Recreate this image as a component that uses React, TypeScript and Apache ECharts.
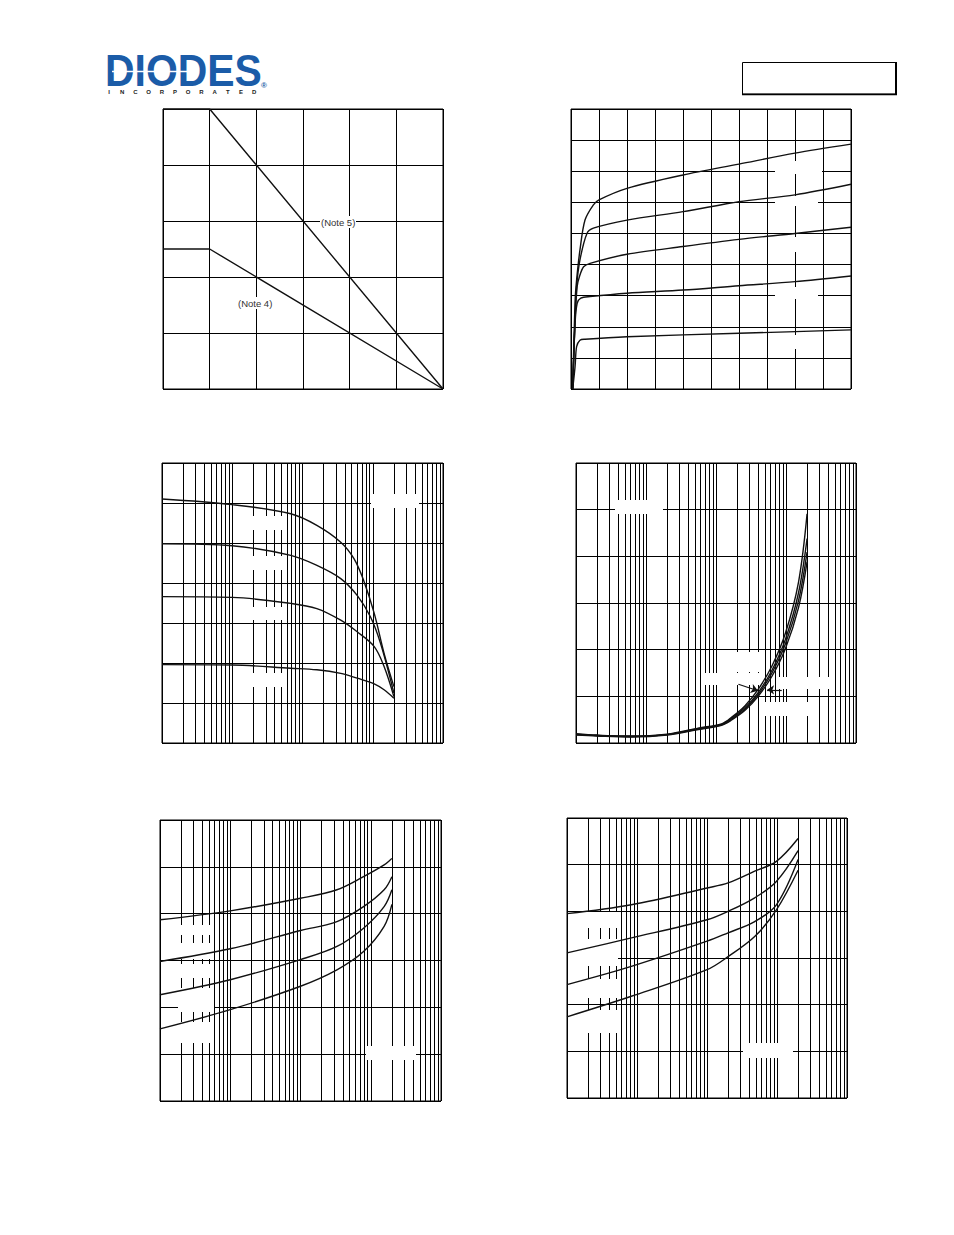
import React, { useEffect, useRef } from "react";
import * as echarts from "echarts";

// ---------- Chart 1: derating (x: ambient temp, y: power) ----------
const c1Temp = [0, 25, 150];
const c1Note5 = [1.0, 1.0, 0];
const c1Note4 = [0.5, 0.5, 0];

// ---------- Chart 2: output characteristics (V_CE, I_C) ----------
const c2Ib5: number[][] = [[0.012, 0], [0.029, 28], [0.04, 35], [0.064, 44.7], [0.1, 54.3], [0.16, 59.2], [0.2, 60.8], [0.4, 64.5], [0.8, 68.8], [1.2, 72.3], [1.6, 75.8], [2.0, 78.7]];
const c2Ib4: number[][] = [[0.012, 0], [0.029, 23], [0.04, 33], [0.064, 41.5], [0.114, 50], [0.16, 51.7], [0.4, 54.3], [0.8, 57.0], [1.2, 60.2], [1.6, 62.4], [2.0, 65.8]];
const c2Ib3: number[][] = [[0.012, 0], [0.029, 22], [0.044, 33], [0.06, 36.1], [0.09, 39.3], [0.136, 40.4], [0.4, 43.3], [0.8, 45.8], [1.2, 48.1], [1.6, 50.0], [2.0, 52.0]];
const c2Ib2: number[][] = [[0.012, 0], [0.029, 21], [0.044, 27.5], [0.07, 29.2], [0.136, 29.7], [0.4, 30.8], [0.8, 31.8], [1.2, 33.2], [1.6, 34.5], [2.0, 36.3]];
const c2Ib1: number[][] = [[0.012, 0], [0.029, 7.2], [0.04, 13.6], [0.064, 15.7], [0.1, 16.0], [0.4, 16.8], [1.2, 17.9], [2.0, 19.0]];

// ---------- Chart 3: DC current gain vs I_C ----------
const c3A: number[][] = [[0.1, 610], [1, 596], [6.8, 573], [16, 544], [35, 502], [54, 461], [74, 407], [105, 324], [145, 224], [200, 141]];
const c3B: number[][] = [[0.1, 498], [1, 493], [6.8, 469], [16, 444], [35, 411], [60, 369], [93, 315], [129, 249], [200, 125]];
const c3C: number[][] = [[0.1, 366], [1, 364], [6.8, 349], [16, 336], [35, 307], [60, 278], [105, 241], [145, 191], [200, 116]];
const c3D: number[][] = [[0.1, 196], [1, 195], [6.8, 187], [16, 183], [35, 174], [60, 162], [105, 148], [145, 133], [200, 112]];

// ---------- Chart 4: V_CE(sat) vs I_C ----------
const c4A: number[][] = [[0.1, 0.020], [0.2, 0.017], [0.6, 0.015], [2, 0.019], [5.6, 0.032], [12, 0.041], [17, 0.056], [26, 0.080], [40, 0.115], [63, 0.165], [98, 0.235], [151, 0.345], [200, 0.491]];
const c4B: number[][] = [[0.1, 0.019], [0.2, 0.016], [0.6, 0.014], [2, 0.018], [5.6, 0.031], [12, 0.040], [17, 0.054], [26, 0.076], [40, 0.108], [63, 0.156], [98, 0.222], [151, 0.322], [200, 0.438]];
const c4C: number[][] = [[0.1, 0.018], [0.2, 0.016], [0.6, 0.014], [2, 0.018], [5.6, 0.030], [12, 0.039], [17, 0.052], [26, 0.073], [40, 0.104], [63, 0.150], [98, 0.212], [151, 0.305], [200, 0.409]];
const c4D: number[][] = [[0.1, 0.017], [0.2, 0.015], [0.6, 0.013], [2, 0.017], [5.6, 0.029], [12, 0.038], [17, 0.050], [26, 0.070], [40, 0.100], [63, 0.143], [98, 0.202], [151, 0.290], [200, 0.388]];
const c4Arrows: number[][][] = [[[20.9, 0.126], [39.8, 0.112]], [[87, 0.114], [53.7, 0.114]]];

// ---------- Chart 5: V_BE(sat) vs I_C ----------
const c5A: number[][] = [[0.1, 0.774], [1, 0.812], [10, 0.866], [33, 0.902], [79, 0.958], [155, 1.008], [200, 1.036]];
const c5B: number[][] = [[0.1, 0.596], [1, 0.65], [10, 0.728], [33, 0.766], [79, 0.83], [155, 0.902], [200, 0.958]];
const c5C: number[][] = [[0.1, 0.454], [1, 0.518], [10, 0.604], [33, 0.66], [79, 0.738], [155, 0.83], [200, 0.902]];
const c5D: number[][] = [[0.1, 0.308], [1, 0.39], [10, 0.49], [33, 0.56], [79, 0.638], [155, 0.746], [200, 0.84]];

// ---------- Chart 6: V_BE(on) vs I_C ----------
const c6A: number[][] = [[0.1, 0.79], [0.83, 0.828], [10, 0.9], [20, 0.922], [48, 0.972], [98, 1.014], [200, 1.112]];
const c6B: number[][] = [[0.1, 0.622], [0.83, 0.686], [10, 0.764], [20, 0.8], [48, 0.858], [98, 0.928], [200, 1.06]];
const c6C: number[][] = [[0.1, 0.486], [0.83, 0.564], [10, 0.672], [20, 0.708], [48, 0.756], [98, 0.828], [200, 1.022]];
const c6D: number[][] = [[0.1, 0.348], [0.83, 0.436], [10, 0.55], [20, 0.606], [48, 0.692], [98, 0.806], [200, 0.976]];

// minor log gridlines (2..9 of each decade)
const logMinor = [0.2, 0.3, 0.4, 0.5, 0.6, 0.7, 0.8, 0.9, 2, 3, 4, 5, 6, 7, 8, 9, 20, 30, 40, 50, 60, 70, 80, 90, 200, 300, 400, 500, 600, 700, 800, 900];

const logoWord = "DIODES";
const logoSub = "INCORPORATED";

// white label masks [x, y, w, h] (label backgrounds of the original)
const masks: number[][] = [
  [775, 161, 47, 13], [775, 196, 43, 10], [785, 237, 20, 15], [775, 287, 43, 12], [785, 335, 20, 14],
  [371, 494, 48, 14], [250, 516, 34, 14], [250, 556, 34, 14], [250, 607, 34, 13], [250, 673, 34, 14],
  [615, 500, 48, 14], [737, 652, 28, 20], [704, 673, 61, 12], [778, 677, 52, 12], [765, 702, 53, 14],
  [178, 925, 36, 10], [178, 943, 36, 16], [178, 964, 36, 14], [178, 988, 36, 24], [178, 1022, 36, 21], [366, 1046, 50, 14],
  [585, 912, 33, 16], [568, 939, 50, 27], [585, 979, 33, 19], [585, 1010, 33, 23], [743, 1043, 50, 15],
];

const axisBase = {
  axisLine: { show: false },
  axisTick: { show: false },
  axisLabel: { show: false },
  splitLine: { show: true, lineStyle: { color: "#000", width: 1 } },
};

function valAxis(gi: number, min: number, max: number, interval: number) {
  return { type: "value", gridIndex: gi, min, max, interval, ...axisBase };
}
function logAxis(gi: number) {
  return { type: "log", logBase: 10, gridIndex: gi, min: 0.1, max: 1000, ...axisBase };
}
function curve(gi: number, data: number[][], smooth: number | boolean = 0.35) {
  return {
    type: "line", xAxisIndex: gi, yAxisIndex: gi, data, symbol: "none", showSymbol: false,
    smooth, silent: true, z: 5,
    lineStyle: { color: "#111", width: 1.4 },
  };
}
function minorGrid(gi: number) {
  return {
    type: "line", xAxisIndex: gi, yAxisIndex: gi, data: [[1, 0]], symbol: "none", silent: true, z: 1,
    lineStyle: { opacity: 0 },
    markLine: {
      silent: true, z: 1, symbol: ["none", "none"], label: { show: false },
      lineStyle: { color: "#000", width: 1, type: "solid" },
      emphasis: { disabled: true },
      data: logMinor.map((v) => ({ xAxis: v })),
    },
  };
}

function buildOption() {
  const grids = [
    { left: 163, top: 109, width: 280, height: 280 },
    { left: 571, top: 109, width: 280, height: 280 },
    { left: 162, top: 463, width: 281, height: 280 },
    { left: 576, top: 463, width: 280, height: 280 },
    { left: 160, top: 820, width: 281, height: 281 },
    { left: 567, top: 818, width: 280, height: 280 },
  ].map((g) => ({ ...g, show: true, borderColor: "#000", borderWidth: 1, backgroundColor: "transparent" }));

  const xAxis = [valAxis(0, 0, 150, 25), valAxis(1, 0, 2, 0.2), logAxis(2), logAxis(3), logAxis(4), logAxis(5)];
  const yAxis = [valAxis(0, 0, 1, 0.2), valAxis(1, 0, 90, 10), valAxis(2, 0, 700, 100), valAxis(3, 0, 0.6, 0.1), valAxis(4, 0, 1.2, 0.2), valAxis(5, 0, 1.2, 0.2)];

  const series: any[] = [
    curve(0, c1Temp.map((t, i) => [t, c1Note5[i]]), false),
    curve(0, c1Temp.map((t, i) => [t, c1Note4[i]]), false),
    curve(1, c2Ib5, 0.3), curve(1, c2Ib4, 0.3), curve(1, c2Ib3, 0.3), curve(1, c2Ib2, 0.3), curve(1, c2Ib1, 0.3),
    minorGrid(2), curve(2, c3A), curve(2, c3B), curve(2, c3C), curve(2, c3D),
    minorGrid(3), curve(3, c4A), curve(3, c4B), curve(3, c4C), curve(3, c4D),
    minorGrid(4), curve(4, c5A), curve(4, c5B), curve(4, c5C), curve(4, c5D),
    minorGrid(5), curve(5, c6A), curve(5, c6B), curve(5, c6C), curve(5, c6D),
    {
      type: "line", xAxisIndex: 3, yAxisIndex: 3, data: [[1, 0]], symbol: "none", silent: true, z: 6,
      lineStyle: { opacity: 0 },
      markLine: {
        silent: true, z: 6, symbol: ["none", "arrow"], symbolSize: 7, label: { show: false },
        lineStyle: { color: "#111", width: 1.2, type: "solid" },
        emphasis: { disabled: true },
        data: c4Arrows.map((a) => [{ coord: a[0] }, { coord: a[1] }]),
      },
    },
  ];

  const elements: any[] = [];
  masks.forEach((m) => {
    elements.push({ type: "rect", z: 3, silent: true, shape: { x: m[0], y: m[1], width: m[2], height: m[3] }, style: { fill: "#fff" } });
  });
  // chart 1 notes
  const note = (txt: string, x: number, y: number) => {
    elements.push({ type: "rect", z: 3, silent: true, shape: { x: x - 1, y: y - 6, width: 36, height: 12 }, style: { fill: "#fff" } });
    elements.push({
      type: "text", z: 4, silent: true, x, y,
      style: { text: txt, fill: "#333", font: '9.5px "Liberation Sans", Arial, sans-serif', align: "left", verticalAlign: "middle", textAlign: "left", textVerticalAlign: "middle" },
    });
  };
  note("(Note 5)", 321, 222);
  note("(Note 4)", 238, 303);

  // logo
  elements.push({
    type: "text", z: 4, silent: true, x: 105, y: 71, scaleX: 0.93,
    style: { text: logoWord, fill: "#1B5CA8", font: 'bold 44px "Liberation Sans", Arial, sans-serif', align: "left", verticalAlign: "middle", textAlign: "left", textVerticalAlign: "middle" },
  });
  elements.push({ type: "line", z: 5, silent: true, shape: { x1: 112, y1: 71.5, x2: 196, y2: 71.5 }, style: { stroke: "#fff", lineWidth: 1.5 } });
  logoSub.split("").forEach((ch, i) => {
    elements.push({
      type: "text", z: 4, silent: true, x: 109 + i * 13.2, y: 92,
      style: { text: ch, fill: "#222", font: 'bold 6px "Liberation Sans", Arial, sans-serif', align: "center", verticalAlign: "middle", textAlign: "center", textVerticalAlign: "middle" },
    });
  });
  elements.push({
    type: "text", z: 4, silent: true, x: 264, y: 85,
    style: { text: "®", fill: "#1B5CA8", font: 'bold 8px "Liberation Sans", Arial, sans-serif', align: "center", verticalAlign: "middle", textAlign: "center", textVerticalAlign: "middle" },
  });

  // title box top right
  elements.push({ type: "rect", z: 4, silent: true, shape: { x: 742.5, y: 62.5, width: 153, height: 31.5 }, style: { fill: "#fff", stroke: "#000", lineWidth: 1 } });
  elements.push({ type: "line", z: 4, silent: true, shape: { x1: 896, y1: 62, x2: 896, y2: 95 }, style: { stroke: "#000", lineWidth: 2 } });
  elements.push({ type: "line", z: 4, silent: true, shape: { x1: 742, y1: 94.5, x2: 897, y2: 94.5 }, style: { stroke: "#000", lineWidth: 1.5 } });

  return {
    animation: false,
    backgroundColor: "#fff",
    grid: grids,
    xAxis,
    yAxis,
    series,
    graphic: { elements },
  };
}

export default function App() {
  const ref = useRef<HTMLDivElement>(null);
  useEffect(() => {
    if (!ref.current) return;
    const chart = echarts.init(ref.current, undefined, { renderer: "svg" });
    chart.setOption(buildOption() as any);
    return () => chart.dispose();
  }, []);
  return (
    <div
      ref={ref}
      style={{ position: "absolute", left: 0, top: 0, width: 954, height: 1235, background: "#fff" }}
    />
  );
}
